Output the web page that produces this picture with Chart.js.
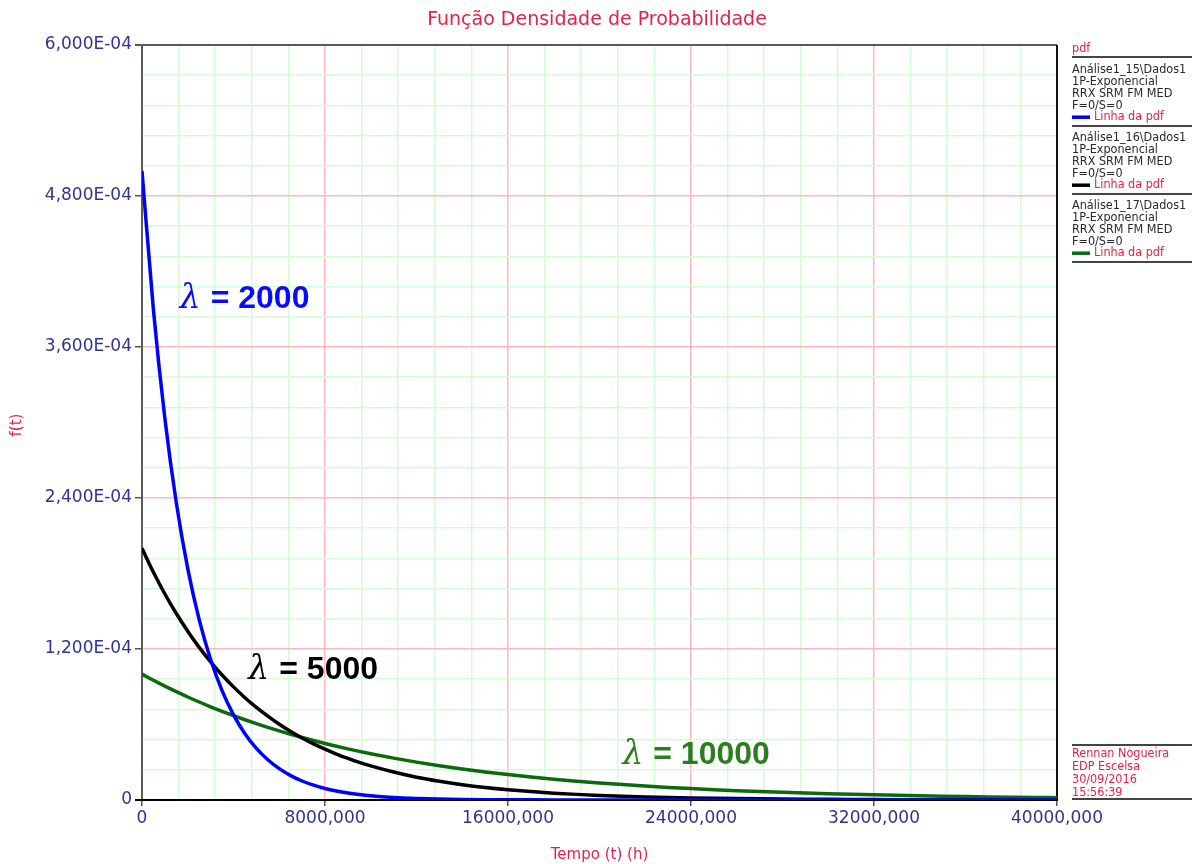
<!DOCTYPE html>
<html>
<head>
<meta charset="utf-8">
<title>Função Densidade de Probabilidade</title>
<script src="https://cdn.jsdelivr.net/npm/chart.js@4/dist/chart.umd.min.js"></script>
<style>
  html, body { margin: 0; padding: 0; background: #ffffff; }
  #wrap { width: 1192px; height: 864px; position: relative; }
</style>
</head>
<body>
<div id="wrap"><canvas id="c" width="1192" height="864"></canvas></div>
<script>
// Time points (h)
const timeHours = [
  0, 500, 1000, 1500, 2000, 2500, 3000, 3500, 4000, 4500,
  5000, 5500, 6000, 6500, 7000, 7500, 8000, 8500, 9000, 9500,
  10000, 11000, 12000, 13000, 14000, 15000, 16000, 17000, 18000, 19000,
  20000, 21000, 22000, 23000, 24000, 25000, 26000, 27000, 28000, 29000,
  30000, 31000, 32000, 33000, 34000, 35000, 36000, 37000, 38000, 39000,
  40000
];

// pdf values, in units of 1E-04
const pdfLambda2000 = [
  5.000, 3.894, 3.033, 2.362, 1.839, 1.433, 1.116, 0.869, 0.677, 0.527,
  0.410, 0.320, 0.249, 0.194, 0.151, 0.118, 0.0916, 0.0713, 0.0555, 0.0433,
  0.0337, 0.0204, 0.0124, 0.0075, 0.0046, 0.0028, 0.0017, 0.0010, 0.0006, 0.0004,
  0.0002, 0.0001, 0.0001, 0, 0, 0, 0, 0, 0, 0,
  0, 0, 0, 0, 0, 0, 0, 0, 0, 0,
  0
];
const pdfLambda5000 = [
  2.000, 1.810, 1.637, 1.482, 1.341, 1.213, 1.098, 0.993, 0.899, 0.813,
  0.736, 0.666, 0.602, 0.545, 0.493, 0.446, 0.404, 0.365, 0.331, 0.299,
  0.271, 0.222, 0.181, 0.149, 0.122, 0.0996, 0.0815, 0.0667, 0.0546, 0.0447,
  0.0366, 0.0300, 0.0245, 0.0201, 0.0165, 0.0135, 0.0110, 0.0090, 0.0074, 0.0061,
  0.0050, 0.0041, 0.0033, 0.0027, 0.0022, 0.0018, 0.0015, 0.0012, 0.0010, 0.0008,
  0.0007
];
const pdfLambda10000 = [
  1.000, 0.9512, 0.9048, 0.8607, 0.8187, 0.7788, 0.7408, 0.7047, 0.6703, 0.6376,
  0.6065, 0.5769, 0.5488, 0.5220, 0.4966, 0.4724, 0.4493, 0.4274, 0.4066, 0.3867,
  0.3679, 0.3329, 0.3012, 0.2725, 0.2466, 0.2231, 0.2019, 0.1827, 0.1653, 0.1496,
  0.1353, 0.1225, 0.1108, 0.1003, 0.0907, 0.0821, 0.0743, 0.0672, 0.0608, 0.0550,
  0.0498, 0.0450, 0.0408, 0.0369, 0.0334, 0.0302, 0.0273, 0.0247, 0.0224, 0.0202,
  0.0183
];
const PDF_UNIT = 1e-4;

// Axis ticks
const xMajorTicks = [0, 8000, 16000, 24000, 32000, 40000];
const xMinorStep = 1600;
const yMajorTicks = [0, 1.2e-4, 2.4e-4, 3.6e-4, 4.8e-4, 6.0e-4];
const yMinorStep = 2.4e-5;

// Curve labels (position in data units)
const curveLabelText = ['2000', '5000', '10000'];
const curveLabelX = [1650, 4650, 21000];
const curveLabelY = [4.0e-4, 1.05e-4, 0.37e-4];

// Legend panel
const legendTitle = 'pdf';
const legendEntries = [
  ['Análise1_15\\Dados1', '1P-Exponencial', 'RRX SRM FM MED', 'F=0/S=0'],
  ['Análise1_16\\Dados1', '1P-Exponencial', 'RRX SRM FM MED', 'F=0/S=0'],
  ['Análise1_17\\Dados1', '1P-Exponencial', 'RRX SRM FM MED', 'F=0/S=0']
];
const legendLineLabel = 'Linha da pdf';
const infoLines = ['Rennan Nogueira', 'EDP Escelsa', '30/09/2016', '15:56:39'];

const seriesColors = ['#0000ff', '#000000', '#0b6a0b'];
const labelColors = ['#0a0aff', '#000000', '#2c7c20'];
const RED = '#e3224b';
const NAVY = '#32328f';

function toPoints(values) {
  return timeHours.map((t, i) => ({ x: t, y: values[i] * PDF_UNIT }));
}

function isMajor(value, major) {
  return major.some(m => Math.abs(m - value) < 1e-9 + Math.abs(m) * 1e-6);
}

function fmtX(v) {
  if (v === 0) return '0';
  return String(Math.round(v)) + ',000';
}
function fmtY(v) {
  if (Math.abs(v) < 1e-12) return '0';
  return (v / 1e-4).toFixed(3).replace('.', ',') + 'E-04';
}

const framePlugin = {
  id: 'frame',
  beforeDatasetsDraw(chart) {
    const { ctx, chartArea: a } = chart;
    ctx.save();
    ctx.lineCap = 'butt';
    // top border
    ctx.strokeStyle = '#5a5a5a';
    ctx.lineWidth = 2;
    ctx.beginPath(); ctx.moveTo(a.left - 7, a.top); ctx.lineTo(a.right, a.top); ctx.stroke();
    // left axis
    ctx.beginPath(); ctx.moveTo(a.left, a.top); ctx.lineTo(a.left, a.bottom); ctx.stroke();
    // right border
    ctx.strokeStyle = '#111111';
    ctx.beginPath(); ctx.moveTo(a.right, a.top); ctx.lineTo(a.right, a.bottom + 1); ctx.stroke();
    // bottom axis
    ctx.strokeStyle = '#000000';
    ctx.beginPath(); ctx.moveTo(a.left - 7, a.bottom); ctx.lineTo(a.right + 1, a.bottom); ctx.stroke();
    ctx.restore();
  },
  afterDraw(chart) {
    const { ctx, chartArea: a, scales } = chart;
    ctx.save();

    // Title
    ctx.fillStyle = RED;
    ctx.font = '19px "DejaVu Sans"';
    ctx.textAlign = 'center';
    ctx.textBaseline = 'middle';
    ctx.fillText('Função Densidade de Probabilidade', 597, 20);

    // Axis titles
    ctx.font = '15px "DejaVu Sans"';
    ctx.fillText('Tempo (t) (h)', (a.left + a.right) / 2, 855);
    ctx.save();
    ctx.translate(17, 425);
    ctx.rotate(-Math.PI / 2);
    ctx.fillText('f(t)', 0, 0);
    ctx.restore();

    // Curve labels
    ctx.textAlign = 'left';
    ctx.textBaseline = 'alphabetic';
    for (let i = 0; i < curveLabelText.length; i++) {
      const px = scales.x.getPixelForValue(curveLabelX[i]);
      const py = scales.y.getPixelForValue(curveLabelY[i]);
      ctx.fillStyle = labelColors[i];
      ctx.font = 'italic 33px "DejaVu Serif"';
      ctx.fillText('λ', px, py + 11);
      const lw = ctx.measureText('λ').width;
      ctx.font = 'bold 32px "Liberation Sans"';
      ctx.fillText('= ' + curveLabelText[i], px + lw + 10, py + 11);
    }

    // Legend panel
    const lx = 1072, rx = 1192;
    ctx.font = '12.5px "DejaVu Sans Condensed", "DejaVu Sans"';
    ctx.textBaseline = 'middle';
    ctx.fillStyle = RED;
    ctx.fillText(legendTitle, lx, 49);
    ctx.strokeStyle = '#444444';
    ctx.lineWidth = 2;
    ctx.beginPath(); ctx.moveTo(lx, 57); ctx.lineTo(rx, 57); ctx.stroke();
    const blockH = 68;
    const rowH = 11.8;
    legendEntries.forEach((rows, b) => {
      const y0 = 70 + b * blockH;
      ctx.fillStyle = '#2a2a2a';
      rows.forEach((r, k) => ctx.fillText(r, lx, y0 + k * rowH));
      const ly = y0 + rows.length * rowH;
      ctx.strokeStyle = seriesColors[b];
      ctx.lineWidth = 3.5;
      ctx.beginPath(); ctx.moveTo(lx, ly); ctx.lineTo(lx + 18, ly); ctx.stroke();
      ctx.fillStyle = RED;
      ctx.fillText(legendLineLabel, lx + 22, ly);
      ctx.strokeStyle = '#444444';
      ctx.lineWidth = 2;
      const sy = 57 + (b + 1) * blockH + 1;
      ctx.beginPath(); ctx.moveTo(lx, sy); ctx.lineTo(rx, sy); ctx.stroke();
    });

    // Info box
    ctx.strokeStyle = '#444444';
    ctx.lineWidth = 2;
    ctx.beginPath(); ctx.moveTo(lx, 745); ctx.lineTo(rx, 745); ctx.stroke();
    ctx.fillStyle = RED;
    infoLines.forEach((t, k) => ctx.fillText(t, lx, 754 + k * 12.8));
    ctx.beginPath(); ctx.moveTo(lx, 799); ctx.lineTo(rx, 799); ctx.stroke();

    ctx.restore();
  }
};

new Chart(document.getElementById('c'), {
  type: 'line',
  data: {
    datasets: [
      { data: toPoints(pdfLambda2000), borderColor: seriesColors[0] },
      { data: toPoints(pdfLambda5000), borderColor: seriesColors[1] },
      { data: toPoints(pdfLambda10000), borderColor: seriesColors[2] }
    ].map(d => Object.assign(d, {
      borderWidth: 3.5,
      pointRadius: 0,
      fill: false,
      cubicInterpolationMode: 'monotone'
    }))
  },
  options: {
    responsive: false,
    animation: false,
    devicePixelRatio: 1,
    layout: { padding: { top: 45, right: 135, left: 0, bottom: 0 } },
    plugins: { legend: { display: false }, title: { display: false }, tooltip: { enabled: false } },
    scales: {
      x: {
        type: 'linear',
        min: 0, max: 40000,
        afterFit: s => { s.height = 64; },
        afterBuildTicks: s => {
          const t = [];
          for (let v = 0; v <= 40000; v += xMinorStep) t.push({ value: v });
          s.ticks = t;
        },
        border: { display: false },
        grid: {
          color: c => isMajor(c.tick.value, xMajorTicks) ? '#ffb8c0' : '#d6f9d6',
          lineWidth: 1.5,
          drawTicks: true,
          tickLength: 6,
          tickColor: c => isMajor(c.tick.value, xMajorTicks) ? '#555555' : 'rgba(0,0,0,0)'
        },
        ticks: {
          autoSkip: false,
          maxRotation: 0,
          padding: 2,
          color: NAVY,
          font: { family: '"DejaVu Sans"', size: 17 },
          callback: v => isMajor(v, xMajorTicks) ? fmtX(v) : ''
        }
      },
      y: {
        type: 'linear',
        min: 0, max: 6e-4,
        afterFit: s => { s.width = 142; },
        afterBuildTicks: s => {
          const t = [];
          for (let k = 0; k <= 25; k++) t.push({ value: k * yMinorStep });
          s.ticks = t;
        },
        border: { display: false },
        grid: {
          color: c => isMajor(c.tick.value, yMajorTicks) ? '#ffb8c0' : '#d6f9d6',
          lineWidth: 1.5,
          drawTicks: true,
          tickLength: 7,
          tickColor: c => isMajor(c.tick.value, yMajorTicks) ? '#555555' : 'rgba(0,0,0,0)'
        },
        ticks: {
          autoSkip: false,
          padding: 3,
          color: NAVY,
          font: { family: '"DejaVu Sans"', size: 17 },
          callback: v => isMajor(v, yMajorTicks) ? fmtY(v) : ''
        }
      }
    }
  },
  plugins: [framePlugin]
});
</script>
</body>
</html>
